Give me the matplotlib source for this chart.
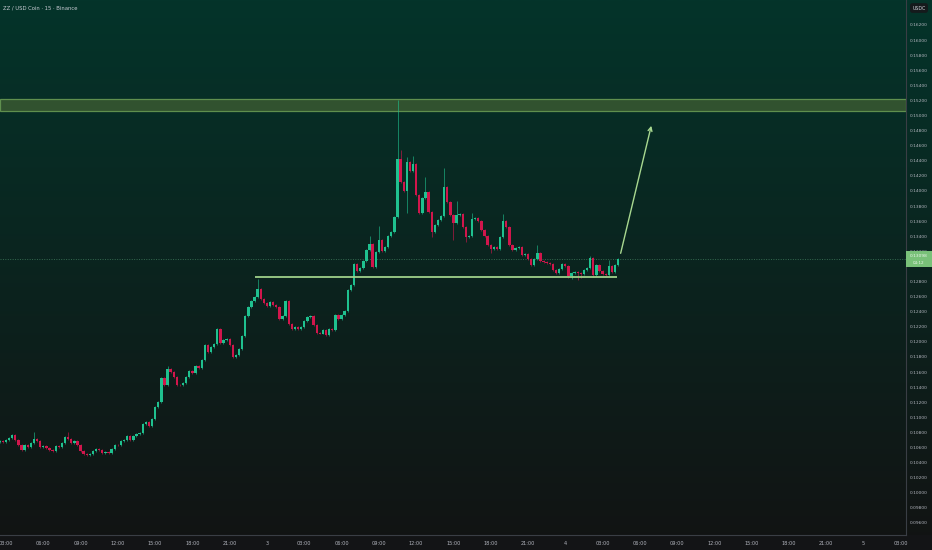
import numpy as np
import matplotlib
matplotlib.use('Agg')
import matplotlib.pyplot as plt
import matplotlib.transforms as mtransforms
from matplotlib.patches import Rectangle

# 15 min candles, ZZ/USDC (closes), open = previous close
first_open = 0.10673
closes = [
    0.10686, 0.10673, 0.10699, 0.10726, 0.10766, 0.10699, 0.10633, 0.10567, 0.10633, 0.10606,
    0.10659, 0.10712, 0.10686, 0.10606, 0.10620, 0.10593, 0.10567, 0.10553, 0.10620, 0.10606,
    0.10659, 0.10739, 0.10712, 0.10659, 0.10686, 0.10633, 0.10553, 0.10514, 0.10500, 0.10514,
    0.10553, 0.10580, 0.10567, 0.10527, 0.10540, 0.10527, 0.10580, 0.10633, 0.10630, 0.10686,
    0.10699, 0.10752, 0.10699, 0.10752, 0.10779, 0.10792, 0.10911, 0.10938, 0.10885, 0.10978,
    0.11137, 0.11203, 0.11521, 0.11428, 0.11640, 0.11600, 0.11534, 0.11428, 0.11425, 0.11455,
    0.11534, 0.11614, 0.11587, 0.11680, 0.11654, 0.11760, 0.11958, 0.11866, 0.11932, 0.11972,
    0.12170, 0.11985, 0.12025, 0.12038, 0.11958, 0.11799, 0.11826, 0.11905, 0.12078, 0.12343,
    0.12462, 0.12542, 0.12595, 0.12701, 0.12568, 0.12515, 0.12475, 0.12528, 0.12489, 0.12462,
    0.12303, 0.12343, 0.12542, 0.12237, 0.12170, 0.12197, 0.12170, 0.12197, 0.12277, 0.12330,
    0.12343, 0.12223, 0.12117, 0.12110, 0.12157, 0.12091, 0.12170, 0.12157, 0.12356, 0.12303,
    0.12356, 0.12409, 0.12687, 0.12754, 0.13032, 0.12939, 0.12979, 0.13072, 0.13218, 0.13297,
    0.12992, 0.13191, 0.13350, 0.13204, 0.13257, 0.13403, 0.13456, 0.13655, 0.14424, 0.14119,
    0.14000, 0.14384, 0.14265, 0.14357, 0.13947, 0.13708, 0.13907, 0.13986, 0.13721, 0.13456,
    0.13549, 0.13615, 0.13668, 0.14053, 0.13854, 0.13681, 0.13575, 0.13681, 0.13695, 0.13522,
    0.13390, 0.13403, 0.13628, 0.13642, 0.13602, 0.13483, 0.13403, 0.13284, 0.13231, 0.13257,
    0.13231, 0.13390, 0.13602, 0.13522, 0.13284, 0.13218, 0.13244, 0.13257, 0.13151, 0.13165,
    0.13098, 0.13019, 0.13098, 0.13178, 0.13072, 0.13059, 0.13045, 0.13032, 0.12952, 0.12913,
    0.12966, 0.13032, 0.13005, 0.12873, 0.12913, 0.12926, 0.12913, 0.12899, 0.12952, 0.12979,
    0.13112, 0.12886, 0.13019, 0.12939, 0.12899, 0.12886, 0.13005, 0.12926, 0.13019, 0.13098,
]
# noticeable wicks (candle index -> price)
high_marks = {11: 0.10805, 22: 0.10805, 54: 0.11680, 83: 0.12833, 119: 0.13403,
              122: 0.13536, 128: 0.15206, 129: 0.14543, 131: 0.14450, 133: 0.14460,
              137: 0.14185, 143: 0.14304, 147: 0.13867, 152: 0.13708, 162: 0.13695,
              173: 0.13284, 190: 0.13138, 196: 0.13085}
low_marks = {131: 0.13708, 139: 0.13390, 146: 0.13350, 150: 0.13324, 158: 0.13178,
             183: 0.12846, 184: 0.12833, 186: 0.12820, 187: 0.12846, 191: 0.12860}

first_bar_hour = 2.5          # day 2, 02:30
bar_hours = 0.25

zone_low, zone_high = 0.1506, 0.1522
support = 0.1286
support_from, support_to = 23.03, 52.15
arrow_from = (52.4, 0.13138)
arrow_to = (54.97, 0.1490)

ytick_vals = [round(0.096 + 0.002 * k, 3) for k in range(34)]

up_col = '#1fc18f'
dn_col = '#d1164c'
txt_col = '#b2b5be'

fig = plt.figure(figsize=(9.32, 5.5), dpi=100)

# background gradient
bg = fig.add_axes([0, 0, 1, 1], zorder=-5)
top = np.array([4, 52, 42]) / 255
bot = np.array([18, 19, 19]) / 255
t = np.linspace(0, 1, 256)[:, None]
grad = (top * (1 - t) + bot * t)[:, None, :]
bg.imshow(grad, aspect='auto', extent=[0, 1, 0, 1])
bg.add_patch(Rectangle((0, 0), 1, 15 / 550, color='#131416'))
bg.set_xlim(0, 1)
bg.set_ylim(0, 1)
bg.axis('off')

ax = fig.add_axes([0, 15 / 550, 906 / 932, 535 / 550])
ax.set_facecolor('none')

n = len(closes)
hours = first_bar_hour + bar_hours * np.arange(n)
opens = np.array([first_open] + closes[:-1])
cl = np.array(closes)
body_lo = np.minimum(opens, cl)
body_hi = np.maximum(opens, cl)
highs = np.array([high_marks.get(i, body_hi[i] + 0.0001) for i in range(n)])
lows = np.array([low_marks.get(i, body_lo[i] - 0.0001) for i in range(n)])
colors = [up_col if c >= o else dn_col for o, c in zip(opens, cl)]

ax.axhspan(zone_low, zone_high, facecolor='#31522f', edgecolor='#5f8f4e', lw=0.9, zorder=1)
ax.vlines(hours, lows, highs, colors=colors, lw=0.6, alpha=0.7, zorder=3)
ax.bar(hours, np.maximum(body_hi - body_lo, 0.00005), bottom=body_lo, width=0.19,
       color=colors, lw=0, zorder=4)

ax.axhline(cl[-1], color='#356a50', lw=0.7, ls=(0, (1, 1.5)), zorder=2)
ax.hlines(support, support_from, support_to, color='#9fd08a', lw=1.3, zorder=5)
ax.annotate('', xy=arrow_to, xytext=arrow_from,
            arrowprops=dict(arrowstyle='->', color='#a8d890', lw=1.0, mutation_scale=7),
            zorder=6)

ax.set_xlim(2.52, 75.41)
ax.set_ylim(0.0944, 0.16531)

xt = list(range(3, 76, 3))
xl = [str(2 + h // 24) if h % 24 == 0 else f'{h % 24:02d}:00' for h in xt]
ax.set_xticks(xt)
ax.set_xticklabels(xl)
ax.yaxis.tick_right()
ax.set_yticks([v for v in ytick_vals if v != 0.13])
ax.set_yticklabels([f'{v:.5f}' for v in ytick_vals if v != 0.13])
ax.tick_params(length=0, labelsize=3.6, colors=txt_col)
ax.tick_params(axis='y', pad=2.5, labelsize=3.2)
ax.tick_params(axis='x', pad=4)
for s in ['top', 'left']:
    ax.spines[s].set_visible(False)
for s in ['right', 'bottom']:
    ax.spines[s].set_color('#3a3e45')
    ax.spines[s].set_linewidth(0.8)

# last price label
tr = mtransforms.blended_transform_factory(ax.transAxes, ax.transData)
box_h = 0.00225
ax.add_patch(Rectangle((1.0, cl[-1] - box_h / 2), 26 / 906, box_h, transform=tr,
                       facecolor='#79c179', edgecolor='none', clip_on=False, zorder=7))
ax.text(1.0 + 13 / 906, cl[-1] + 0.0004, f'{cl[-1]:.5f}', transform=tr, ha='center',
        va='center', fontsize=3.2, color='#eaf5ea', clip_on=False, zorder=8)
ax.text(1.0 + 13 / 906, cl[-1] - 0.0005, '04:12', transform=tr, ha='center',
        va='center', fontsize=3.0, color='#eaf5ea', clip_on=False, zorder=8)

fig.text(919 / 932, 1 - 8 / 550, 'USDC', ha='center', va='center', fontsize=3.4,
         color='#d1d4dc', bbox=dict(boxstyle='round,pad=0.5', fc='#151a1c', ec='none'))
fig.text(3 / 932, 1 - 8 / 550, 'ZZ / USD Coin · 15 · Binance', ha='left', va='center',
         fontsize=3.8, color='#c8ccd4')

fig.savefig('out.png', dpi=100)
